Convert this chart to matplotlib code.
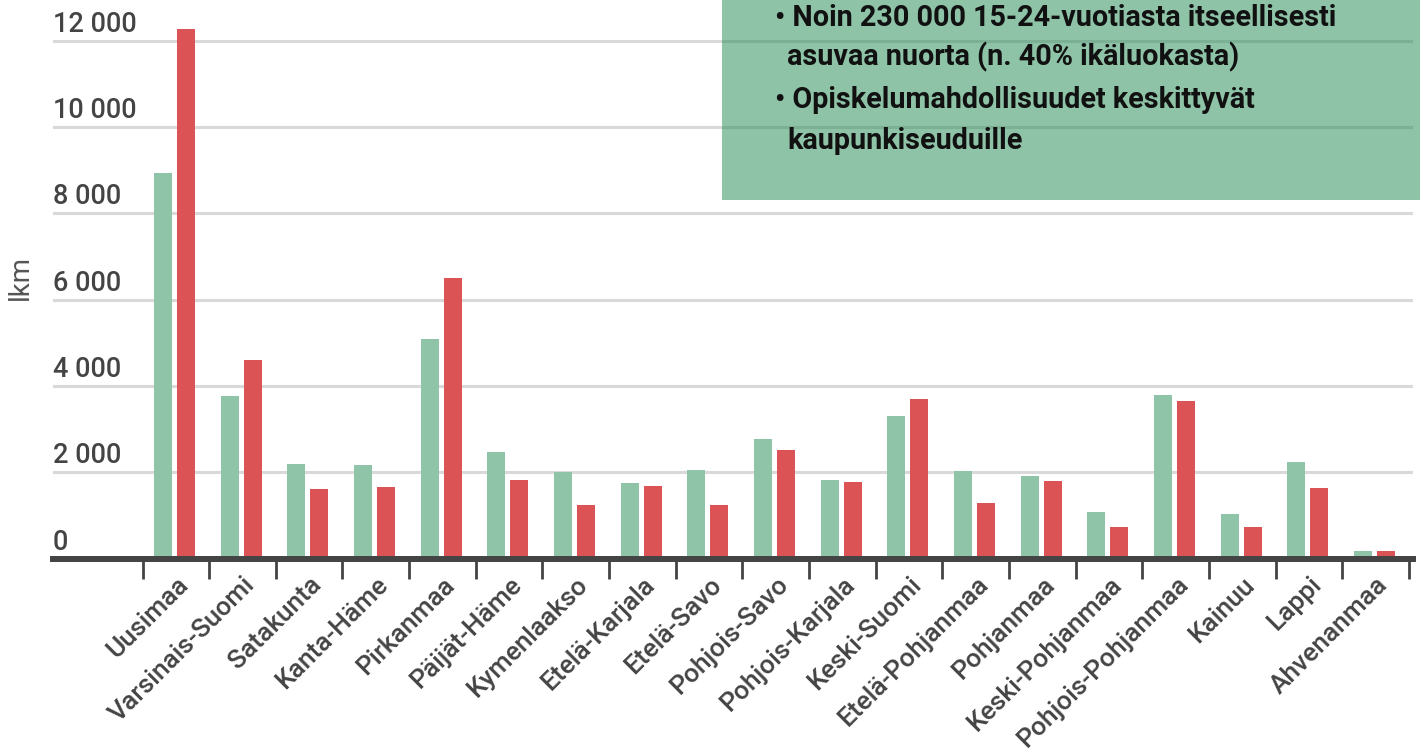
import matplotlib
matplotlib.use('Agg')
import matplotlib.pyplot as plt
import numpy as np
from matplotlib.patches import Rectangle

plt.rcParams['font.family'] = ['Roboto', 'DejaVu Sans']

# 数据
regions = ['Uusimaa', 'Varsinais-Suomi', 'Satakunta', 'Kanta-Häme', 'Pirkanmaa',
           'Päijät-Häme', 'Kymenlaakso', 'Etelä-Karjala', 'Etelä-Savo', 'Pohjois-Savo',
           'Pohjois-Karjala', 'Keski-Suomi', 'Etelä-Pohjanmaa', 'Pohjanmaa',
           'Keski-Pohjanmaa', 'Pohjois-Pohjanmaa', 'Kainuu', 'Lappi', 'Ahvenanmaa']
green_vals = [8940, 3770, 2190, 2170, 5090, 2470, 2010, 1750, 2055, 2770,
              1820, 3305, 2030, 1915, 1080, 3790, 1035, 2240, 180]
red_vals = [12270, 4600, 1615, 1660, 6500, 1820, 1245, 1685, 1245, 2520,
            1775, 3700, 1290, 1800, 735, 3655, 735, 1640, 180]
y_ticks = [0, 2000, 4000, 6000, 8000, 10000, 12000]
y_tick_labels = ['0', '2 000', '4 000', '6 000', '8 000', '10 000', '12 000']
box_lines = ['• Noin 230 000 15-24-vuotiasta itseellisesti',
             'asuvaa nuorta (n. 40% ikäluokasta)',
             '• Opiskelumahdollisuudet keskittyvät',
             'kaupunkiseuduille']

GREEN = '#8fc4a9'
RED = '#dc5356'
DARK = '#444444'

W, H = 1428, 752
fig = plt.figure(figsize=(W / 100, H / 100), dpi=100)
ax = fig.add_axes([53 / W, (H - 558.7) / H, (1413 - 53) / W, 558.7 / H])

x = np.arange(len(regions))
bw = 0.27
ax.bar(x - 0.19, green_vals, bw, color=GREEN, zorder=2)
ax.bar(x + 0.155, red_vals, bw, color=RED, zorder=2)

ax.set_xlim(-1.843, 18.56)
ax.set_ylim(0, 12945)

# 网格线
for v in y_ticks[1:]:
    ax.axhline(v, color='#d9d9d9', lw=2.2, zorder=1)
ax.set_yticks([])
for v, lab in zip(y_ticks, y_tick_labels):
    ax.annotate(lab, xy=(0, v), xycoords=('axes fraction', 'data'),
                xytext=(0, 9), textcoords='offset pixels',
                ha='left', va='baseline', fontsize=19.5, fontweight='medium',
                color=DARK)

for s in ['top', 'right', 'left']:
    ax.spines[s].set_visible(False)
ax.spines['bottom'].set_color(DARK)
ax.spines['bottom'].set_linewidth(4.3)
ax.spines['bottom'].set_zorder(3)

ax.set_xticks(x)
ax.set_xticklabels(regions, rotation=45, ha='right', va='top',
                   rotation_mode='anchor', fontsize=19, fontweight='medium',
                   color=DARK)
ax.tick_params(axis='x', which='major', length=0, pad=10)
ax.set_xticks(np.arange(-0.5, len(regions), 1), minor=True)
ax.tick_params(axis='x', which='minor', length=14.5, width=2, color=DARK)

fig.text(20 / W, 1 - 277 / H, 'lkm', rotation=90, ha='center', va='center',
         fontsize=20, color='#555555')

# 文本框
fig.patches.append(Rectangle((722 / W, 1 - 200 / H), (1420 - 722) / W, 200 / H,
                             transform=fig.transFigure, facecolor='#1f8951',
                             alpha=0.5, edgecolor='none', zorder=5))
line_y = [18, 57, 100, 141]
line_x = [775, 787, 775, 787]
for t, lx, ly in zip(box_lines, line_x, line_y):
    fig.text(lx / W, 1 - ly / H, t, ha='left', va='center', fontsize=20.7,
             fontweight='bold', color='#111111', zorder=6)

fig.savefig('out.png', dpi=100)
